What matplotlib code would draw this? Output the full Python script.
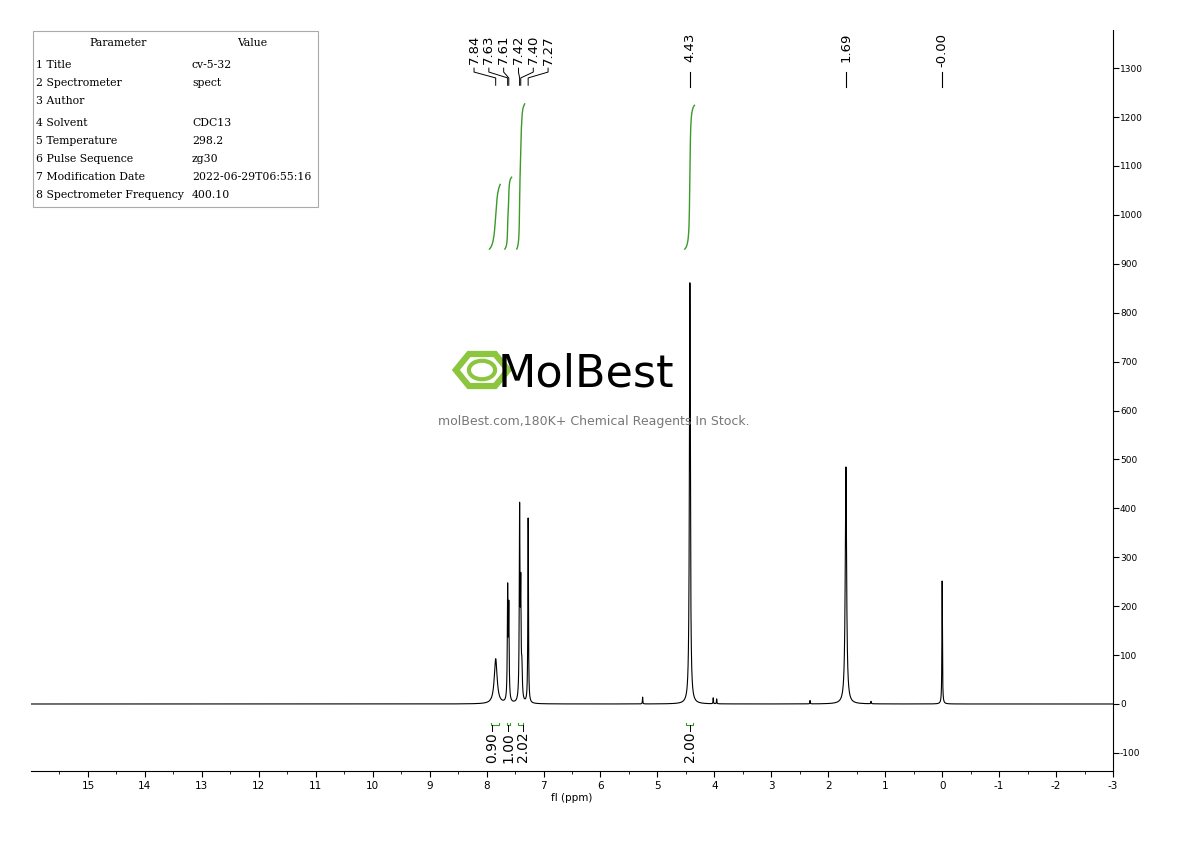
import numpy as np
import matplotlib
matplotlib.use("Agg")
import matplotlib.pyplot as plt
from matplotlib.patches import RegularPolygon, Rectangle, Circle

# peak list (ppm, height, half-width ppm)
peak_ppm = [7.84, 7.63, 7.61, 7.42, 7.40, 7.38, 7.27, 5.26, 4.43, 4.02, 3.96, 2.32, 1.69, 1.25, 0.00]
peak_h   = [92, 225, 185, 385, 215, 60, 378, 14, 862, 12, 10, 7, 485, 5, 252]
peak_w   = [0.03, 0.007, 0.007, 0.007, 0.007, 0.009, 0.006, 0.004, 0.01, 0.004, 0.004, 0.004, 0.014, 0.005, 0.005]
label_ppm = ["7.84", "7.63", "7.61", "7.42", "7.40", "7.27"]
single_labels = ["4.43", "1.69", "-0.00"]
single_pos = [4.43, 1.69, 0.00]
integ_ranges = [(7.95, 7.76), (7.68, 7.56), (7.47, 7.33), (4.52, 4.35)]
integ_vals = [0.90, 1.00, 2.02, 2.00]
table_params = ["Title", "Spectrometer", "Author", "Solvent", "Temperature",
                "Pulse Sequence", "Modification Date", "Spectrometer Frequency"]
table_vals = ["cv-5-32", "spect", "", "CDC13", "298.2", "zg30",
              "2022-06-29T06:55:16", "400.10"]

fig = plt.figure(figsize=(11.9, 8.41), dpi=100)
ax = fig.add_axes([31/1190, 70/841, 1082/1190, 741/841])
ppm = np.linspace(16, -3, 20000)
spec = np.zeros_like(ppm)
for p, h, w in zip(peak_ppm, peak_h, peak_w):
    spec += h * w**2 / ((ppm - p)**2 + w**2)
ax.plot(ppm, spec, color="black", lw=0.8)
ax.set_xlim(16, -3)
ax.set_ylim(-137, 1378)

green = "#3a9a2a"
for (a, b), v in zip(integ_ranges, integ_vals):
    m = (ppm <= a) & (ppm >= b)
    x = ppm[m]; c = np.cumsum(spec[m]); c = c / c[-1] * v * 147
    ax.plot(x, 930 + c, color=green, lw=1)
    ax.plot([a - 0.03, a - 0.03, b + 0.03, b + 0.03], [-38, -42, -42, -38], color=green, lw=0.8)
ilab_x = [7.90, 7.62, 7.36, 4.43]
for x, v in zip(ilab_x, integ_vals):
    ax.plot([x, x], [-42, -55], color="black", lw=0.7)
    ax.text(x, -57, f"{v:.2f}", rotation=90, ha="center", va="top", fontsize=10)

lab_x = [7.84 + 0.38, 7.84 + 0.12, 7.84 - 0.14, 7.84 - 0.40, 7.84 - 0.66, 7.84 - 0.92]
for lx, lt, p in zip(lab_x, label_ppm, [7.84, 7.63, 7.61, 7.42, 7.40, 7.27]):
    ax.text(lx, 1368, lt, rotation=90, ha="center", va="top", fontsize=9.5)
    ax.plot([lx, lx, p, p], [1300, 1292, 1280, 1265], color="black", lw=0.7)
for p, t in zip(single_pos, single_labels):
    ax.text(p, 1372, t, rotation=90, ha="center", va="top", fontsize=9.5)
    ax.plot([p, p], [1293, 1262], color="black", lw=0.8)

for s in ["top", "left"]:
    ax.spines[s].set_visible(False)
ax.yaxis.tick_right()
ax.set_yticks(np.arange(-100, 1301, 100))
ax.set_yticklabels([str(v) for v in range(-100, 1301, 100)], fontsize=6.5)
ax.set_xticks(np.arange(15, -4, -1))
ax.set_xticklabels([str(v) for v in range(15, -4, -1)], fontsize=7.5)
ax.set_xticks(np.arange(15.5, -3, -1), minor=True)
ax.tick_params(axis="x", direction="out", length=4)
ax.tick_params(axis="x", which="minor", length=2)
ax.tick_params(axis="y", direction="out", length=4, pad=1)
ax.set_xlabel("fl (ppm)", fontsize=7.5, labelpad=1)

fig.add_artist(Rectangle((33/1190, 1 - 207/841), 285/1190, 176/841, transform=fig.transFigure,
                         fill=False, ec="#aaaaaa", lw=0.8))
tf = dict(fontsize=7.8, family="DejaVu Serif", va="center")
fig.text(118/1190, 1 - 43/841, "Parameter", ha="center", **tf)
fig.text(252/1190, 1 - 43/841, "Value", ha="center", **tf)
ys = [65, 83, 101, 123, 141, 159, 177, 195]
for i, (p, v, y) in enumerate(zip(table_params, table_vals, ys)):
    fig.text(36/1190, 1 - y/841, f"{i+1} {p}", **tf)
    fig.text(192/1190, 1 - y/841, v, **tf)

fig.add_artist(RegularPolygon((482/1190, 1 - 370/841), 6, radius=0.022, orientation=np.pi/2,
                              transform=fig.transFigure, fill=False, ec="#8cc63f", lw=4.5))
fig.add_artist(Circle((482/1190, 1 - 370/841), 0.011, transform=fig.transFigure,
                      fill=False, ec="#8cc63f", lw=3))
fig.text(586/1190, 1 - 374/841, "MolBest", fontsize=32, ha="center", va="center",
         family="DejaVu Sans", color="black")
fig.text(594/1190, 1 - 421/841, "molBest.com,180K+ Chemical Reagents In Stock.", fontsize=9,
         ha="center", va="center", color="#777777")

fig.savefig("out.png", dpi=100)
